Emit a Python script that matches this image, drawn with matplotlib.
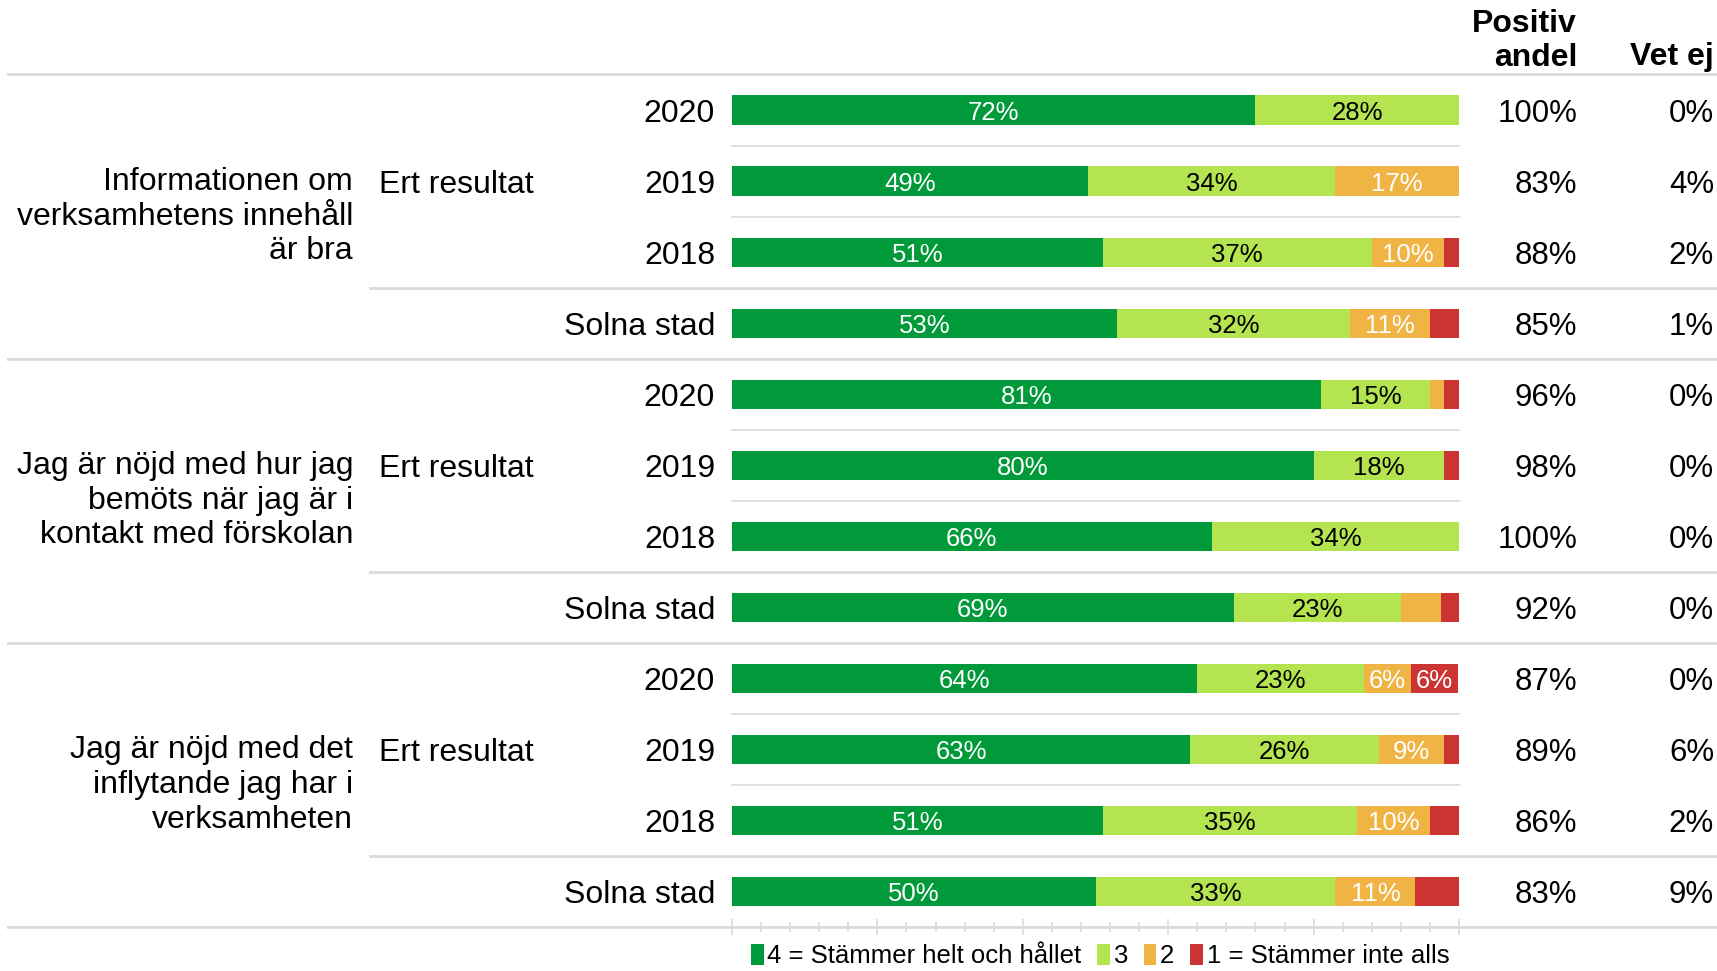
import matplotlib
matplotlib.use("Agg")
import matplotlib.pyplot as plt
import matplotlib.transforms as mtransforms
from matplotlib.patches import Patch
import numpy as np

plt.rcParams['font.family'] = ['Liberation Sans', 'DejaVu Sans']

# questions and row labels
questions = ["Informationen om\nverksamhetens innehåll\när bra",
             "Jag är nöjd med hur jag\nbemöts när jag är i\nkontakt med förskolan",
             "Jag är nöjd med det\ninflytande jag har i\nverksamheten"]
row_labels = ["2020", "2019", "2018", "Solna stad"]
legend_labels = ["4 = Stämmer helt och hållet", "3", "2", "1 = Stämmer inte alls"]

# percentages per row (4, 3, 2, 1)
share_4 = [72, 49, 51, 53, 81, 80, 66, 69, 64, 63, 51, 50]
share_3 = [28, 34, 37, 32, 15, 18, 34, 23, 23, 26, 35, 33]
share_2 = [0, 17, 10, 11, 2, 0, 0, 5.5, 6.4, 9, 10, 11]
share_1 = [0, 0, 2, 4, 2, 2, 0, 2.5, 6.4, 2, 4, 6]
positiv = ["100%", "83%", "88%", "85%", "96%", "98%", "100%", "92%", "87%", "89%", "86%", "83%"]
vet_ej = ["0%", "4%", "2%", "1%", "0%", "0%", "0%", "0%", "0%", "6%", "2%", "9%"]

colors = ["#009A3A", "#B4E450", "#EFB443", "#CC3333"]
text_colors = ["white", "black", "white", "white"]
grid_col = "#D9D9D9"

W, H = 1717, 971
fig = plt.figure(figsize=(W / 100, H / 100), dpi=100)
ax = fig.add_axes([732 / W, 1 - 927 / H, (1459 - 732) / W, (927 - 74.5) / H])

n = len(share_4)
y = np.arange(n)
left = np.zeros(n)
for vals, c, tc in zip([share_4, share_3, share_2, share_1], colors, text_colors):
    vals = np.array(vals, dtype=float)
    ax.barh(y, vals, left=left, height=0.41, color=c, edgecolor="none")
    for yi, (l, v) in enumerate(zip(left, vals)):
        if v >= 6.2:
            ax.text(l + v / 2, yi, f"{v:.0f}%", ha="center", va="center_baseline",
                    color=tc, fontsize=18.5)
    left += vals

ax.set_xlim(0, 100)
ax.set_ylim(n - 0.5, -0.5)
for s in ax.spines.values():
    s.set_visible(False)
ax.set_yticks([])
ax.set_xticks(np.arange(0, 101, 20))
ax.set_xticks(np.arange(0, 101, 4), minor=True)
ax.set_xticklabels([])
ax.tick_params(axis="x", which="major", direction="inout", length=12, width=1.2, color=grid_col)
ax.tick_params(axis="x", which="minor", direction="inout", length=7, width=1.2, color=grid_col)

blend = mtransforms.blended_transform_factory(fig.transFigure, ax.transData)

# full width lines
for yl in [-0.5, 3.5, 7.5, 11.5]:
    ax.plot([8 / W, 1], [yl, yl], color=grid_col, lw=2, transform=blend, clip_on=False)
# sub group lines
for yl in [2.5, 6.5, 10.5]:
    ax.plot([370 / W, 1], [yl, yl], color=grid_col, lw=2, transform=blend, clip_on=False)
# between bars
for g in range(3):
    for k in [0.5, 1.5]:
        ax.plot([0, 100], [4 * g + k, 4 * g + k], color=grid_col, lw=1.2, clip_on=False)

fs = 23
for g, q in enumerate(questions):
    ax.text(353 / W, 4 * g + 1.5, q, transform=blend, ha="right", va="center",
            fontsize=fs, linespacing=1.2)
    ax.text(379 / W, 4 * g + 1, "Ert resultat", transform=blend, ha="left",
            va="center_baseline", fontsize=fs)
for i in range(n):
    ax.text(715 / W, i, row_labels[i % 4], transform=blend, ha="right",
            va="center_baseline", fontsize=fs)
    ax.text(1577 / W, i, positiv[i], transform=blend, ha="right", va="center_baseline", fontsize=22.5)
    ax.text(1714 / W, i, vet_ej[i], transform=blend, ha="right", va="center_baseline", fontsize=22.5)

fig.text(1577 / W, 1 - 41 / H, "Positiv\nandel", ha="right", va="center",
         fontsize=23, fontweight="bold", linespacing=1.2)
fig.text(1714 / W, 1 - 57 / H, "Vet ej", ha="right", va="center",
         fontsize=23, fontweight="bold")

handles = [Patch(facecolor=c, edgecolor="none") for c in colors]
fig.legend(handles, legend_labels, loc="center", ncol=4,
           bbox_to_anchor=(1100 / W, 1 - 956 / H), frameon=False, fontsize=18.5,
           handlelength=0.5, handleheight=0.9, handletextpad=0.15, columnspacing=0.6,
           borderpad=0.1)

fig.savefig("out.png", dpi=100)
